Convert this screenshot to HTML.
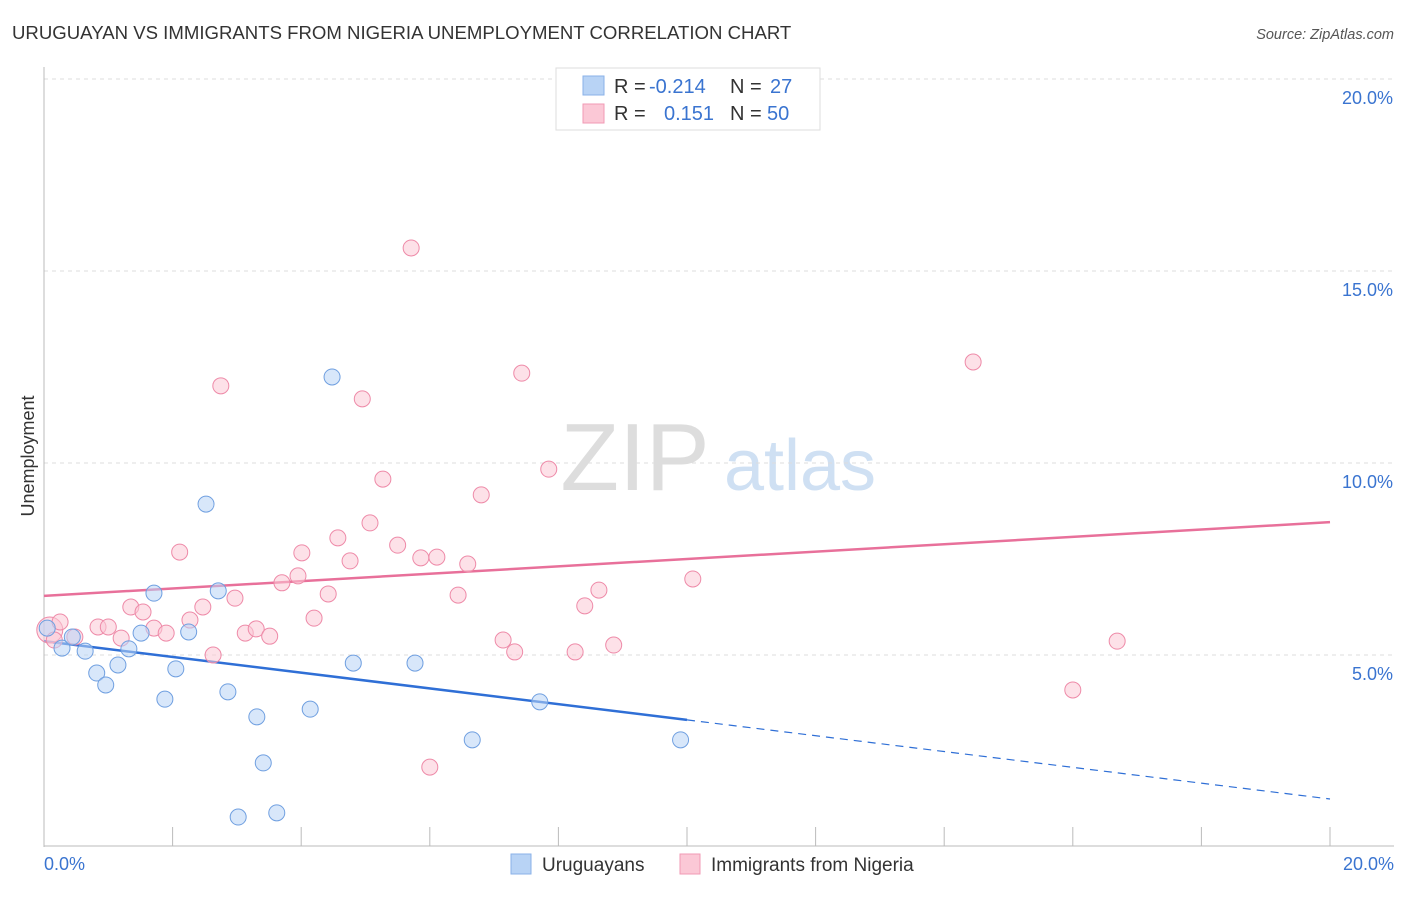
<!DOCTYPE html>
<html><head><meta charset="utf-8"><style>
body{margin:0;background:#fff;font-family:"Liberation Sans",sans-serif;}
svg text{font-family:"Liberation Sans",sans-serif;}
</style></head><body>
<svg id="chart" width="1406" height="892">
<text x="12" y="39" font-size="18.6" fill="#333">URUGUAYAN VS IMMIGRANTS FROM NIGERIA UNEMPLOYMENT CORRELATION CHART</text>
<text x="1394" y="39" font-size="14.5" fill="#555" font-style="italic" text-anchor="end">Source: ZipAtlas.com</text>
<text x="34" y="456" font-size="18" fill="#333" text-anchor="middle" transform="rotate(-90 34 456)">Unemployment</text>
<g><text x="635" y="490" font-size="96" fill="#ddd" font-family="Liberation Serif" text-anchor="middle">ZIP</text><text x="800" y="490" font-size="72" fill="#cfe0f3" text-anchor="middle">atlas</text></g>
<g id="grid"></g><g id="axes"></g><g id="lines"></g><g id="pts"></g>
<g>
<rect x="556" y="68" width="264" height="62" fill="#fff" stroke="#ddd"/>
<rect x="583" y="76" width="21" height="19" fill="#b8d3f5" stroke="#8ab2e8"/>
<rect x="583" y="104" width="21" height="19" fill="#fbc8d6" stroke="#f09ab4"/>
<text x="614" y="93" font-size="20" fill="#333">R =</text><text x="649" y="93" font-size="20" fill="#3a74d0">-0.214</text>
<text x="730" y="93" font-size="20" fill="#333">N =</text><text x="770" y="93" font-size="20" fill="#3a74d0">27</text>
<text x="614" y="120" font-size="20" fill="#333">R =</text><text x="664" y="120" font-size="20" fill="#3a74d0">0.151</text>
<text x="730" y="120" font-size="20" fill="#333">N =</text><text x="767" y="120" font-size="20" fill="#3a74d0">50</text>
</g>
<g>
<rect x="511" y="854" width="20" height="20" fill="#b8d3f5" stroke="#8ab2e8"/>
<text x="542" y="871" font-size="19" fill="#333">Uruguayans</text>
<rect x="680" y="854" width="20" height="20" fill="#fbc8d6" stroke="#f09ab4"/>
<text x="711" y="871" font-size="19" fill="#333">Immigrants from Nigeria</text>
</g>
</svg>
<script>
const blueX=[0.05,0.28,0.44,0.64,0.82,0.96,1.15,1.32,1.51,1.71,1.88,2.05,2.25,2.52,2.71,2.86,3.02,3.31,3.41,3.62,4.14,4.48,4.81,5.77,6.66,7.71,9.90];
const blueY=[5.70,5.18,5.47,5.10,4.53,4.22,4.74,5.16,5.57,6.61,3.85,4.64,5.60,8.93,6.67,4.04,0.78,3.39,2.19,0.89,3.59,12.24,4.79,4.79,2.79,3.78,2.79];
const pinkX=[0.09,0.16,0.25,0.48,0.84,1.00,1.20,1.35,1.54,1.71,1.90,2.11,2.27,2.47,2.63,2.75,2.97,3.13,3.30,3.51,3.70,3.95,4.01,4.20,4.42,4.57,4.76,4.95,5.07,5.27,5.50,5.71,5.86,6.00,6.11,6.44,6.59,6.80,7.14,7.32,7.43,7.85,8.26,8.41,8.63,8.86,10.09,14.45,16.00,16.69];
const pinkY=[5.65,5.39,5.86,5.47,5.73,5.73,5.44,6.25,6.12,5.70,5.57,7.68,5.91,6.25,5.00,12.01,6.48,5.57,5.68,5.49,6.88,7.06,7.66,5.96,6.59,8.05,7.45,11.67,8.44,9.58,7.86,15.60,7.53,2.08,7.55,6.56,7.37,9.17,5.39,5.08,12.34,9.84,5.08,6.28,6.69,5.26,6.98,12.63,4.09,5.36];
const yTicks=[5,10,15,20];
const yTickLabels=["5.0%","10.0%","15.0%","20.0%"];
const xTicks=[0,2,4,6,8,10,12,14,16,18,20];
const blueTrend=[[0,5.36],[10.0,3.31],[20,1.25]];
const pinkTrend=[[0,6.54],[20,8.46]];
const sx=v=>44+v/20*1286, sy=v=>847-v*38.4;
const NS="http://www.w3.org/2000/svg";
function mk(t,a,p){const e=document.createElementNS(NS,t);for(const k in a)e.setAttribute(k,a[k]);p.appendChild(e);return e;}
const grid=document.getElementById('grid'),axes=document.getElementById('axes'),lines=document.getElementById('lines'),pts=document.getElementById('pts');
yTicks.forEach((t,i)=>{
 const l=mk('line',{x1:44,x2:1394,y1:sy(t),y2:sy(t),stroke:'#ddd','stroke-dasharray':'4,4'},grid);
 
 
 const tx=mk('text',{x:1393,y:sy(t)+25,'font-size':18,fill:'#3a74d0','text-anchor':'end'},axes);
 tx.textContent=yTickLabels[i];
 
 
});
const ya=mk('line',{x1:44,x2:44,y1:67,y2:847,stroke:'#bbb'},axes);


const xa=mk('line',{x1:44,x2:1394,y1:846,y2:846,stroke:'#bbb'},axes);


xTicks.forEach(t=>{const l=mk('line',{x1:sx(t),x2:sx(t),y1:827,y2:846,stroke:'#bbb'},axes);
 
 });
[[0,'0.0%','start',44],[20,'20.0%','end',1394]].forEach(d=>{const tx=mk('text',{x:d[3],y:870,'font-size':18,fill:'#3a74d0','text-anchor':d[2]},axes);tx.textContent=d[1];
 
 });
function pt(x,y,f,s,p,name,r){const c=mk('circle',{cx:sx(x),cy:sy(y),r:r,fill:f,'fill-opacity':0.55,stroke:s,'stroke-width':1},p);
 
 }
pinkX.forEach((x,i)=>pt(x,pinkY[i],'#fbc8d6','#ee8aa8',pts,'nigeria-point',i===0?13:8));
blueX.forEach((x,i)=>pt(x,blueY[i],'#b8d3f5','#6f9fe0',pts,'uruguayan-point',8));
const pl=mk('line',{x1:sx(pinkTrend[0][0]),y1:sy(pinkTrend[0][1]),x2:sx(pinkTrend[1][0]),y2:sy(pinkTrend[1][1]),stroke:'#e8709a','stroke-width':2.5},lines);


const bl=mk('line',{x1:sx(blueTrend[0][0]),y1:sy(blueTrend[0][1]),x2:sx(blueTrend[1][0]),y2:sy(blueTrend[1][1]),stroke:'#2f6fd6','stroke-width':2.5},lines);


const bd=mk('line',{x1:sx(blueTrend[1][0]),y1:sy(blueTrend[1][1]),x2:sx(blueTrend[2][0]),y2:sy(blueTrend[2][1]),stroke:'#2f6fd6','stroke-width':1.2,'stroke-dasharray':'8,6'},lines);


</script>
</body></html>
